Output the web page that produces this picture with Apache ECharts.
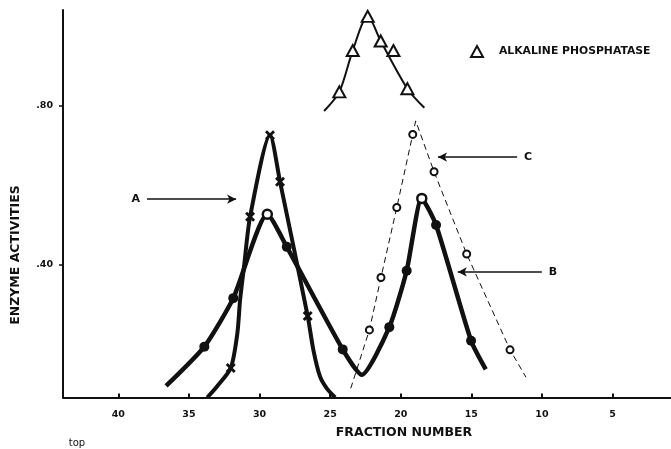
<!DOCTYPE html>
<html>
<head>
<meta charset="utf-8">
<script src="https://cdn.jsdelivr.net/npm/echarts@6/dist/echarts.min.js"></script>
<style>
html,body{margin:0;padding:0;background:#fff;}
#chart{width:671px;height:449px;}
</style>
</head>
<body>
<div id="chart"></div>
<script>
// [fraction number, enzyme activity]
var curveA = [[33.70,0.065],[33.03,0.092],[32.04,0.139],[31.57,0.227],[31.38,0.310],[31.10,0.394],[30.67,0.520],[29.26,0.725],[28.55,0.608],[26.59,0.270],[26.19,0.185],[25.72,0.118],[25.24,0.088],[24.65,0.065]];
var pointsA = [[32.04,0.139],[30.67,0.520],[29.26,0.725],[28.55,0.608],[26.59,0.270]];

var curveB = [[36.62,0.094],[33.91,0.193],[31.86,0.315],[29.45,0.526],[28.07,0.444],[24.11,0.186],[22.76,0.122],[20.81,0.242],[19.58,0.384],[18.51,0.566],[17.50,0.499],[15.02,0.208],[13.98,0.136]];
var pointsB = [[33.91,0.193],[31.86,0.315],[28.07,0.444],[24.11,0.186],[20.81,0.242],[19.58,0.384],[17.50,0.499],[15.02,0.208]];
var peaksB = [[29.45,0.526],[18.51,0.566]];

var curveC = [[23.54,0.088],[22.22,0.235],[21.40,0.367],[20.28,0.543],[19.15,0.727],[18.94,0.761],[17.64,0.633],[15.33,0.426],[12.26,0.185],[11.13,0.116]];
var pointsC = [[22.22,0.235],[21.40,0.367],[20.28,0.543],[19.15,0.727],[17.64,0.633],[15.33,0.426],[12.26,0.185]];

var curveAP = [[25.43,0.786],[24.35,0.834],[23.40,0.938],[22.34,1.024],[21.42,0.962],[19.53,0.842],[18.33,0.794]];
var pointsAP = [[24.35,0.834],[23.40,0.938],[22.34,1.024],[21.42,0.962],[20.52,0.938],[19.53,0.842]];

// arrows pointing at the curves
var arrowLabels = ['A','C','B'];
var arrowFrom = [[37.97,0.564],[11.76,0.670],[10.01,0.381]];
var arrowTo = [[31.66,0.564],[17.36,0.670],[15.96,0.381]];

var xTicks = [40,35,30,25,20,15,10,5];
var yTicks = [0.40,0.80];

var FONT = '"DejaVu Sans", sans-serif';
var crossPath = 'path://M0,2L2,0L5,3L8,0L10,2L7,5L10,8L8,10L5,7L2,10L0,8L3,5Z';

var myChart = echarts.init(document.getElementById('chart'));

var arrowData = [];
for (var i = 0; i < arrowLabels.length; i++) {
	arrowData.push([
		{coord: arrowFrom[i], label: {formatter: arrowLabels[i]}},
		{coord: arrowTo[i]}
	]);
}

var option = {
	animation: false,
	backgroundColor: '#fff',
	grid: {left: 63, right: 0, top: 10, bottom: 51.5},
	legend: {
		left: 465,
		top: 40,
		itemWidth: 12,
		itemHeight: 11,
		textStyle: {fontFamily: FONT, fontWeight: 'bold', fontSize: 10.8, color: '#111', padding: [0, 0, 0, 11]},
		data: [{name: 'ALKALINE PHOSPHATASE', icon: 'triangle',
			itemStyle: {color: '#fff', borderColor: '#111', borderWidth: 2, opacity: 1}}]
	},
	xAxis: {
		type: 'value',
		inverse: true,
		min: 0.86,
		max: 43.92,
		axisLine: {lineStyle: {color: '#111', width: 2}},
		axisTick: {inside: true, length: 4, customValues: xTicks, lineStyle: {color: '#111', width: 2}},
		axisLabel: {customValues: xTicks, margin: 12, color: '#111', fontFamily: FONT, fontWeight: 'bold', fontSize: 9.5},
		splitLine: {show: false}
	},
	yAxis: {
		type: 'value',
		min: 0.065,
		max: 1.04,
		axisLine: {show: true, lineStyle: {color: '#111', width: 2}},
		axisTick: {show: true, length: 4, customValues: yTicks, lineStyle: {color: '#111', width: 1.5}},
		axisLabel: {customValues: yTicks, margin: 10, color: '#111', fontFamily: FONT, fontWeight: 'bold', fontSize: 9.5,
			formatter: function (v) { return '.' + Math.round(v * 100); }},
		splitLine: {show: false}
	},
	graphic: [
		{type: 'text', x: 16, y: 255, rotation: Math.PI / 2,
			style: {text: 'ENZYME ACTIVITIES', font: 'bold 12.5px ' + FONT, fill: '#111', align: 'center', verticalAlign: 'middle'}},
		{type: 'text', x: 404, y: 433,
			style: {text: 'FRACTION NUMBER', font: 'bold 12.5px ' + FONT, fill: '#111', align: 'center', verticalAlign: 'middle'}},
		{type: 'text', x: 77, y: 443,
			style: {text: 'top', font: '10px ' + FONT, fill: '#111', align: 'center', verticalAlign: 'middle'}}
	],
	series: [
		{
			name: 'B', type: 'line', data: curveB, smooth: 0.2, showSymbol: false,
			lineStyle: {color: '#111', width: 4.5}, z: 2
		},
		{
			name: 'A', type: 'line', data: curveA, smooth: 0.25, showSymbol: false,
			lineStyle: {color: '#111', width: 4}, z: 2,
			markLine: {
				silent: true,
				symbol: ['none', 'arrow'],
				symbolSize: [7, 9],
				lineStyle: {color: '#111', width: 1.5, type: 'solid', opacity: 1},
				label: {show: true, position: 'start', distance: 7, color: '#111',
					fontFamily: FONT, fontWeight: 'bold', fontSize: 11},
				data: arrowData
			}
		},
		{
			name: 'C', type: 'line', data: curveC, showSymbol: false,
			lineStyle: {color: '#111', width: 1, type: [6, 4]}, z: 2
		},
		{
			name: 'ALKALINE PHOSPHATASE line', type: 'line', data: curveAP, smooth: 0.3, showSymbol: false,
			lineStyle: {color: '#111', width: 2}, z: 2
		},
		{
			name: 'A points', type: 'scatter', data: pointsA, symbol: crossPath, symbolSize: 10,
			itemStyle: {color: '#111', opacity: 1}, z: 5
		},
		{
			name: 'B points', type: 'scatter', data: pointsB, symbol: 'circle', symbolSize: 10,
			itemStyle: {color: '#111', opacity: 1}, z: 5
		},
		{
			name: 'B peaks', type: 'scatter', data: peaksB, symbol: 'circle', symbolSize: 9,
			itemStyle: {color: '#fff', borderColor: '#111', borderWidth: 2.5, opacity: 1}, z: 5
		},
		{
			name: 'C points', type: 'scatter', data: pointsC, symbol: 'circle', symbolSize: 7,
			itemStyle: {color: '#fff', borderColor: '#111', borderWidth: 2, opacity: 1}, z: 5
		},
		{
			name: 'ALKALINE PHOSPHATASE', type: 'scatter', data: pointsAP, symbol: 'triangle', symbolSize: [12, 11],
			itemStyle: {color: '#fff', borderColor: '#111', borderWidth: 2, opacity: 1}, z: 5
		}
	]
};
myChart.setOption(option);
</script>
</body>
</html>
